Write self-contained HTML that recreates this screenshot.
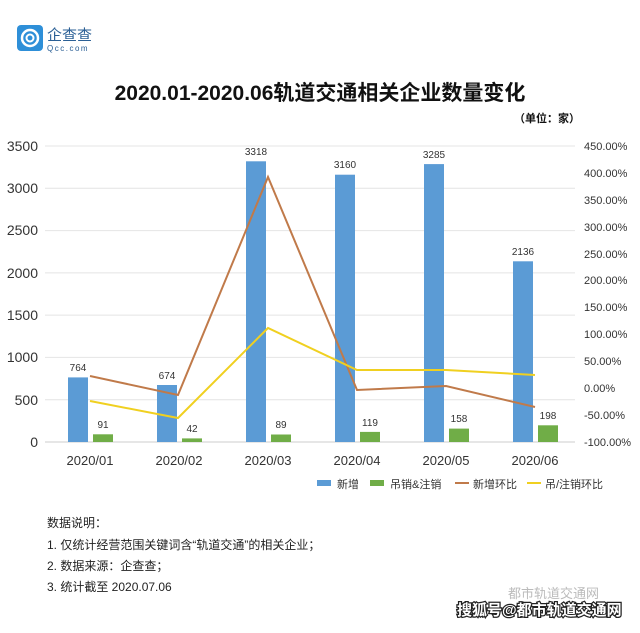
<!DOCTYPE html>
<html><head><meta charset="utf-8"><style>
body{margin:0;background:#fff;width:640px;height:628px;overflow:hidden;font-family:"Liberation Sans","Noto Sans CJK SC",sans-serif;}
</style></head><body>
<svg width="640" height="628" xmlns="http://www.w3.org/2000/svg" font-family="Liberation Sans, Noto Sans CJK SC, sans-serif">
<rect x="17" y="25" width="26" height="26" rx="4" fill="#2e8fd8"/>
<circle cx="30" cy="38" r="8" fill="none" stroke="#fff" stroke-width="2.5"/>
<circle cx="30" cy="38" r="3.5" fill="none" stroke="#fff" stroke-width="2"/>
<text x="47" y="40" font-size="15" fill="#2a5f95">企查查</text>
<text x="47" y="51" font-size="8" fill="#2a5f95" letter-spacing="1.5">Qcc.com</text>
<text x="320" y="100" font-size="21" font-weight="bold" text-anchor="middle" fill="#111">2020.01-2020.06轨道交通相关企业数量变化</text>
<text x="580" y="122" font-size="11" font-weight="bold" text-anchor="end" fill="#111">（单位：家）</text>
<g stroke="#e4e4e4" stroke-width="1">
<line x1="45" y1="146" x2="575" y2="146"/><line x1="45" y1="188.3" x2="575" y2="188.3"/><line x1="45" y1="230.6" x2="575" y2="230.6"/><line x1="45" y1="272.9" x2="575" y2="272.9"/><line x1="45" y1="315.1" x2="575" y2="315.1"/><line x1="45" y1="357.4" x2="575" y2="357.4"/><line x1="45" y1="399.7" x2="575" y2="399.7"/><line x1="45" y1="442" x2="575" y2="442" stroke="#ccc"/>
</g>
<g font-size="14" fill="#333" text-anchor="end">
<text x="38" y="151">3500</text><text x="38" y="193">3000</text><text x="38" y="235">2500</text><text x="38" y="278">2000</text><text x="38" y="320">1500</text><text x="38" y="362">1000</text><text x="38" y="405">500</text><text x="38" y="447">0</text>
</g>
<g font-size="11" fill="#333">
<text x="584" y="150">450.00%</text><text x="584" y="177">400.00%</text><text x="584" y="204">350.00%</text><text x="584" y="231">300.00%</text><text x="584" y="258">250.00%</text><text x="584" y="284">200.00%</text><text x="584" y="311">150.00%</text><text x="584" y="338">100.00%</text><text x="584" y="365">50.00%</text><text x="584" y="392">0.00%</text><text x="584" y="419">-50.00%</text><text x="584" y="446">-100.00%</text>
</g>
<g fill="#5b9bd5">
<rect x="68" y="377.4" width="20" height="64.6"/><rect x="157" y="385" width="20" height="57"/><rect x="246" y="161.3" width="20" height="280.7"/><rect x="335" y="174.7" width="20" height="267.3"/><rect x="424" y="164.1" width="20" height="277.9"/><rect x="513" y="261.3" width="20" height="180.7"/>
</g>
<g fill="#70ad47">
<rect x="93" y="434.3" width="20" height="7.7"/><rect x="182" y="438.4" width="20" height="3.6"/><rect x="271" y="434.5" width="20" height="7.5"/><rect x="360" y="431.9" width="20" height="10.1"/><rect x="449" y="428.6" width="20" height="13.4"/><rect x="538" y="425.3" width="20" height="16.7"/>
</g>
<polyline points="90,376 178,395 268,177 357,390 446,386 535,407" fill="none" stroke="#c07a4a" stroke-width="2"/>
<polyline points="90,401 178,418 268,328 357,370 446,370 535,375" fill="none" stroke="#f0d020" stroke-width="2"/>
<g font-size="10" fill="#333" text-anchor="middle">
<text x="78" y="371">764</text><text x="167" y="379">674</text><text x="256" y="155">3318</text><text x="345" y="168">3160</text><text x="434" y="158">3285</text><text x="523" y="255">2136</text>
<text x="103" y="428">91</text><text x="192" y="432">42</text><text x="281" y="428">89</text><text x="370" y="426">119</text><text x="459" y="422">158</text><text x="548" y="419">198</text>
</g>
<g font-size="13" fill="#333" text-anchor="middle">
<text x="90" y="465">2020/01</text><text x="179" y="465">2020/02</text><text x="268" y="465">2020/03</text><text x="357" y="465">2020/04</text><text x="446" y="465">2020/05</text><text x="535" y="465">2020/06</text>
</g>
<g font-size="11" fill="#333">
<rect x="317" y="480" width="14" height="6" fill="#5b9bd5"/><text x="337" y="488">新增</text>
<rect x="370" y="480" width="14" height="6" fill="#70ad47"/><text x="390" y="488">吊销&amp;注销</text>
<line x1="455" y1="483" x2="469" y2="483" stroke="#c07a4a" stroke-width="2"/><text x="473" y="488">新增环比</text>
<line x1="527" y1="483" x2="541" y2="483" stroke="#f0d020" stroke-width="2"/><text x="545" y="488">吊/注销环比</text>
</g>
<g font-size="12" fill="#222">
<text x="47" y="527">数据说明：</text>
<text x="47" y="549">1. 仅统计经营范围关键词含“轨道交通”的相关企业；</text>
<text x="47" y="570">2. 数据来源：企查查；</text>
<text x="47" y="591">3. 统计截至 2020.07.06</text>
</g>
<text x="508" y="598" font-size="13" fill="#bbb">都市轨道交通网</text>
<text x="457" y="615" font-size="15" font-weight="bold" fill="#fff" stroke="#222" stroke-width="2.5" paint-order="stroke">搜狐号@都市轨道交通网</text>
</svg>
</body></html>
